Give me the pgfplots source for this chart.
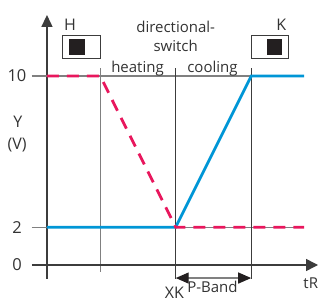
\documentclass[border=0pt]{standalone}
\usepackage{fontspec}
\setmainfont{Open Sans}
\usepackage{pgfplots}
\pgfplotsset{compat=1.18}
\usetikzlibrary{arrows.meta}
\definecolor{cred}{HTML}{E8175D}
\definecolor{cblue}{HTML}{0096D6}
\definecolor{cgray}{HTML}{808080}
\definecolor{cdark}{HTML}{3C3C3C}
\definecolor{ctext}{HTML}{333333}
\definecolor{cbox}{HTML}{231F20}
\begin{document}
\fontsize{15bp}{18bp}\selectfont
\begin{tikzpicture}
\useasboundingbox (0,0) rectangle (319bp,304bp);
\begin{axis}[
  at={(175.7bp,39bp)}, anchor=origin,
  x=75.5bp, y=18.9bp,
  xmin=-1.705, xmax=1.7, ymin=-0.74, ymax=13.23,
  clip=false,
  axis x line=none,
  axis y line=left,
  y axis line style={draw=cdark, line width=1.5bp, -{Triangle[length=12bp,width=11bp]}},
  ytick={0,2,10},
  major tick length=15bp,
  tick align=outside,
  ytick style={draw=cgray, line width=1.3bp},
  yticklabel style={anchor=center, xshift=-15bp, text=ctext, font=\fontsize{16.5bp}{19bp}\selectfont},
  /pgf/number format/assume math mode=true,
]
\draw[cgray, line width=1.3bp] (axis cs:-1.904,10) -- (axis cs:1.70,10);
\draw[cgray, line width=1.3bp] (axis cs:-1.904,2) -- (axis cs:1.70,2);
\draw[cgray, line width=1.3bp] (axis cs:-1,10.42) -- (axis cs:-1,-0.37);
\draw[cdark, line width=1.3bp] (axis cs:0,10.42) -- (axis cs:0,-0.74);
\draw[cdark, line width=1.3bp] (axis cs:1,10.42) -- (axis cs:1,-0.74);
\draw[cdark, line width=1.5bp, -{Triangle[length=12bp,width=12bp]}] (axis cs:-1.904,0) -- (axis cs:1.885,0);
\draw[cgray, line width=1.3bp, {Triangle[length=13bp,width=11bp,color=cbox]}-{Triangle[length=13bp,width=11bp,color=cbox]}] (axis cs:0,-0.69) -- (axis cs:1,-0.69);

\addplot[cblue, line width=2.8bp] coordinates {(-1.705,2) (0,2) (1,10) (1.70,10)};
\addplot[cred, line width=2.8bp, dash pattern=on 12bp off 8bp] coordinates {(-1.705,10) (-1,10) (0,2) (1.70,2)};

% switch boxes
\draw[cdark, line width=1bp] (axis cs:-1.503,10.95) rectangle (axis cs:-1.0,12.12);
\fill[cbox] (axis cs:-1.41,11.11) rectangle (axis cs:-1.20,11.96);
\draw[cdark, line width=1bp] (axis cs:1.01,10.95) rectangle (axis cs:1.50,12.12);
\fill[cbox] (axis cs:1.21,11.11) rectangle (axis cs:1.41,11.96);

% texts
\node[ctext, anchor=base, inner sep=0, font=\fontsize{16bp}{19bp}\selectfont] at (axis cs:-1.40,12.43) {H};
\node[ctext, anchor=base, inner sep=0, font=\fontsize{16bp}{19bp}\selectfont] at (axis cs:1.40,12.43) {K};
\node[ctext, anchor=base, inner sep=0] at (axis cs:0,12.29) {directional-};
\node[ctext, anchor=base, inner sep=0] at (axis cs:0,11.28) {switch};
\node[ctext, anchor=base, inner sep=0] at (axis cs:-0.506,10.16) {heating};
\node[ctext, anchor=base, inner sep=0] at (axis cs:0.487,10.16) {cooling};
\node[ctext, anchor=center, inner sep=0, font=\fontsize{16bp}{19bp}\selectfont] at (axis cs:-2.09,7.57) {Y};
\node[ctext, anchor=center, inner sep=0, font=\fontsize{16bp}{19bp}\selectfont] at (axis cs:-2.10,6.35) {(V)};
\node[ctext, anchor=base, inner sep=0] at (axis cs:0.487,-1.48) {P-Band};
\node[ctext, anchor=base, inner sep=0, font=\fontsize{16bp}{19bp}\selectfont] at (axis cs:-0.016,-1.75) {XK};
\node[ctext, anchor=base west, inner sep=0, font=\fontsize{15bp}{18bp}\selectfont] at (axis cs:1.69,-1.22) {tR};
\end{axis}
\end{tikzpicture}
\end{document}
